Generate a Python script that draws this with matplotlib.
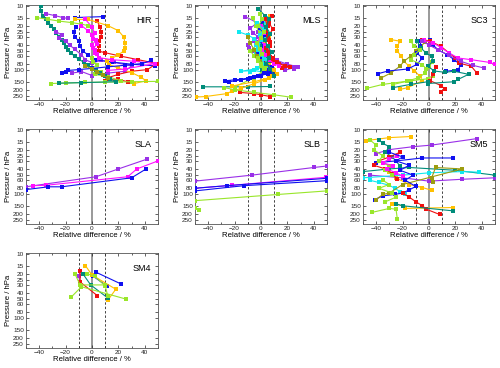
import numpy as np
import matplotlib.pyplot as plt
from matplotlib.ticker import FixedLocator

plt.rcParams['font.family'] = ['Liberation Sans', 'DejaVu Sans']

# ---- data: relative difference (%) against pressure (hPa), one entry per profile ----
panel_names = ['HIR', 'MLS', 'SC3', 'SLA', 'SLB', 'SM5', 'SM4']

hir_series = ['teal', 'purple', 'purple', 'blue', 'blue', 'red', 'gold', 'magenta', 'lime', 'lime', 'lime',
              'teal', 'blue', 'olive', 'magenta']
hir_p = [
    [10, 12, 14, 16, 18, 20, 23, 26, 30, 34, 38, 43, 48, 54, 60, 67, 75, 83, 92],
    [13, 14, 15, 15.5],
    [25, 28, 31, 35, 40, 47, 57, 68, 76, 70, 75, 85, 103, 110, 120, 104, 110],
    [15, 14.5],
    [21, 25, 30, 35, 42, 50, 57, 68, 74, 80, 85],
    [17, 21, 25, 30, 35, 42, 50, 53, 60, 68, 78, 97, 103, 115, 130, 145, 138, 150],
    [16, 16, 20, 24, 30, 37, 45, 50, 57, 65, 72, 81, 92, 108, 127, 145, 160],
    [16, 21, 26, 32, 39, 45, 53, 63, 68, 72, 78, 95, 100],
    [15, 16, 17, 18, 19, 20],
    [65, 73, 82, 92, 105, 115, 125, 145],
    [160, 157, 154, 152, 150, 148],
    [100, 110, 120, 135, 150, 155, 158],
    [110, 105, 100, 97, 93, 88, 83, 78, 70],
    [85, 95, 105, 118, 130],
    [20, 24, 28, 34, 40, 48, 56],
]
hir_d = [
    [-39, -39, -37, -35, -33, -31, -29, -27, -25, -23, -21, -20, -18, -16, -13, -10, -6, -3, 0],
    [-35, -28, -22, -18],
    [-27, -23, -25, -20, -17, -13, -8, -5, 0, 7, 17, 30, 25, 12, 0, -8, -15],
    [-13, 8],
    [-12, -14, -13, -10, -9, -7, -3, 2, 15, 30, 48],
    [4, 6, 7, 7, 5, 5, 5, 10, 22, 35, 49, 42, 30, 20, 12, 10, 20, 27],
    [-13, -3, 12, 20, 24, 25, 25, 24, 20, 15, 11, 13, 20, 30, 37, 41, 32],
    [-5, 0, 2, 1, 4, 1, 2, 5, 15, 32, 48, 25, 12],
    [-42, -33, -25, -15, -8, -3],
    [0, 1, 4, 0, 7, 2, 12, 22],
    [-31, -20, -5, 10, 30, 50],
    [3, 6, 10, 14, 18, -8, -25],
    [-23, -20, -18, -10, 0, 12, 25, 38, 45],
    [-5, 0, 4, 8, 12],
    [-8, -3, 0, 3, 0, 2, 4],
]

mls_series = ['purple', 'purple', 'cyan', 'cyan', 'teal', 'teal', 'gold', 'gold', 'red', 'red',
              'lime', 'lime', 'blue', 'blue', 'magenta', 'olive', 'cyan', 'gold', 'blue', 'lime',
              'red', 'teal']
mls_p = [
    [14.5, 18, 22, 26, 30, 35, 40, 45, 50, 55, 62, 70, 80, 88, 95],
    [20, 25, 30, 36, 42, 50, 58, 66, 75, 82, 90, 100],
    [25, 28, 32, 38, 45, 52, 60, 70, 80, 90, 103, 100, 110],
    [15, 19, 24, 29, 35, 42, 50, 60, 72, 85],
    [11, 14, 18, 23, 28, 34, 41, 50, 60, 72, 85, 100],
    [180, 180, 178],
    [260, 255, 230, 210, 190, 160, 140, 120],
    [14, 18, 23, 30, 38, 47, 58, 70, 82, 95],
    [220, 230, 240, 255],
    [16, 20, 26, 33, 42, 52, 62, 72, 80, 88, 92],
    [185, 200, 220, 240, 262],
    [15, 20, 26, 33, 40, 50, 60, 72, 85, 100, 130, 180],
    [145, 140, 135, 128, 120, 112, 105],
    [17, 22, 28, 35, 44, 55, 66, 78, 90, 110, 140],
    [20, 26, 33, 40, 48, 58, 68, 78, 86],
    [30, 38, 48, 60, 72, 85, 100],
    [18, 23, 28, 34, 40, 48, 56, 66, 78, 92, 105],
    [100, 115, 130, 150, 175],
    [150, 140, 130, 120, 110, 100],
    [13, 16, 20, 25, 31, 38, 46, 55, 65, 78, 92],
    [14, 18, 23, 29, 36, 45, 55, 65, 75, 85],
    [16, 21, 27, 34, 42, 52, 64, 78, 95, 120],
]
mls_d = [
    [-12, -3, -8, -6, -2, -5, -10, -9, -6, -2, 5, 12, 20, 28, 25],
    [2, -2, 1, -3, 0, 3, 2, 6, 12, 20, 25, 18],
    [-17, -10, -5, -2, 0, -4, 1, 3, 5, 2, -15, -5, 5],
    [4, 2, -1, 3, 1, -2, 0, 3, 6, 4],
    [-2, 3, 1, 4, 2, -1, 1, 3, 5, 7, 3, 1],
    [-44, -10, 7],
    [-49, -42, -26, -22, -15, -5, 3, 8],
    [7, 5, 2, 6, 3, 0, 4, 2, 6, 9],
    [-16, -5, 0, 7],
    [3, 5, 4, 6, 7, 5, 7, 9, 14, 22, 16],
    [-28, -20, -5, 10, 23],
    [-6, -4, -1, 0, -3, -8, -5, -2, 0, 2, -5, -20],
    [-27, -20, -10, -5, 0, 5, 8],
    [1, -1, 3, 0, 2, -2, 1, 4, 8, 5, -15],
    [0, 2, -1, 3, 1, 4, 6, 10, 14],
    [-10, -8, -5, -3, 0, 3, 5],
    [-3, 2, -1, 1, -4, -2, 0, 2, 1, -3, -8],
    [10, 12, 6, -5, -22],
    [-24, -15, -8, -2, 2, 6],
    [-1, 1, -2, 2, 0, -3, -1, 1, -2, 0, 3],
    [8, 6, 9, 5, 7, 4, 6, 9, 12, 18],
    [6, 4, 7, 3, 5, 8, 6, 4, 7, 10],
]

sc3_series = ['gold', 'lime', 'lime', 'olive', 'blue', 'blue', 'red', 'red', 'magenta', 'purple',
              'teal', 'lime', 'teal']
sc3_p = [
    [33, 35, 42, 50, 60, 72, 86, 102, 122, 145, 185, 198],
    [190, 165, 145, 135, 120],
    [190, 165, 148, 130, 110, 90, 75],
    [130, 110, 86, 72, 60, 50, 42, 36],
    [113, 102, 95, 80, 64, 54, 42, 35, 33],
    [33, 40, 48, 57, 68, 82, 98, 103],
    [33, 35, 42, 53, 64, 77, 86, 108],
    [90, 103, 115, 145, 172, 195, 215],
    [34, 37, 44, 53, 64, 68, 75, 80],
    [35, 40, 48, 58, 72, 83, 92],
    [35, 45, 54, 60, 72, 86, 102, 107, 103, 115, 138, 150, 160],
    [35, 42, 48, 57, 68, 81, 95],
    [150, 165, 185],
]
sc3_d = [
    [-29, -22, -24, -24, -21, -19, -15, -11, -7, -5, -16, -22],
    [-47, -35, -14, -1, 3],
    [-27, -27, -17, -8, -3, 0, 2],
    [-36, -29, -22, -19, -14, -10, -6, -3],
    [-39, -31, -16, -9, -5, -9, -7, -6, -4],
    [1, 3, 7, 14, 19, 24, 22, 13],
    [-5, 1, 9, 15, 20, 23, 32, 36],
    [5, 4, 3, 1, 9, 12, 9],
    [-4, 3, 9, 15, 22, 32, 46, 50],
    [-5, 0, 7, 15, 24, 33, 42],
    [-9, -6, -2, 2, 3, -1, 4, 12, 19, 30, 22, 19, -1],
    [-14, -11, -7, -11, -14, -5, -2],
    [-1, -14, -27],
]

sla_series = ['purple', 'magenta', 'blue']
sla_p = [
    [76, 53, 40, 28],
    [73, 72, 53, 40, 30],
    [84, 76, 76, 55, 40],
]
sla_d = [
    [-50, 3, 20, 42],
    [-45, -35, 27, 34, 50],
    [-50, -33, -23, 30, 41],
]

slb_series = ['purple', 'magenta', 'blue', 'blue', 'lime', 'lime']
slb_p = [
    [62, 50, 38, 36],
    [80, 72, 54],
    [80, 73, 56],
    [88, 73, 61],
    [125, 100, 88],
    [160, 175],
]
slb_d = [
    [-50, -7, 40, 50],
    [-50, -22, 49],
    [-50, -26, 50],
    [-50, -13, 50],
    [-50, 13, 50],
    [-50, -47],
]

sm5_series = ['gold', 'gold', 'gold', 'purple', 'purple', 'teal', 'teal', 'cyan', 'cyan', 'blue', 'blue',
              'red', 'red', 'lime', 'lime', 'olive', 'magenta', 'teal', 'blue', 'lime']
sm5_p = [
    [14.5, 13, 12.5],
    [140, 150, 165, 160],
    [45, 55, 70, 78, 86],
    [23, 20, 18, 17, 13.5],
    [50, 55, 62, 58, 55],
    [44, 40, 38, 42, 50],
    [14, 16, 18, 22, 26, 30, 36],
    [55, 50, 46, 44, 45],
    [60, 65, 72, 80, 90, 100],
    [32, 30, 27, 27],
    [120, 105, 100, 95, 85, 75],
    [95, 110, 130, 150, 170, 205],
    [22, 26, 30, 35, 40, 48, 57],
    [190, 165, 170, 240],
    [14, 17, 20, 25, 30, 36, 42, 50],
    [120, 100, 95, 70, 40, 38, 55, 65],
    [25, 28, 32, 36, 40, 46, 52],
    [140, 150, 180],
    [22, 26, 30, 35, 42, 50, 60, 75],
    [60, 70, 80, 95, 110, 130],
]
sm5_d = [
    [-48, -30, -14],
    [-28, -20, -18, 18],
    [-30, -25, -15, -5, 2],
    [-40, -30, -12, 2, 36],
    [-45, -20, 0, 25, 50],
    [-50, -30, -15, 20, 50],
    [-38, -35, -30, -33, -28, -25, -22],
    [-50, -20, 0, 25, 38],
    [-45, -38, -30, -26, -22, -18],
    [-40, -25, -5, 18],
    [-41, -35, -26, -20, -15, -10],
    [-20, -15, -10, -5, -2, 8],
    [-22, -30, -38, -42, -33, -28, -24],
    [-43, -30, -25, -24],
    [-45, -40, -42, -35, -38, -30, -33, -28],
    [-40, -35, -30, -20, 25, 5, 2, 3],
    [-24, -30, -35, -27, -32, -25, -20],
    [-25, -20, 18],
    [-30, -20, -25, -15, -22, -12, -18, -10],
    [-35, -30, -38, -28, -25, -33],
]

sm4_series = ['purple', 'red', 'blue', 'blue', 'gold', 'teal', 'lime', 'lime', 'lime']
sm4_p = [
    [18.5, 22, 29],
    [18, 27, 44],
    [19, 29],
    [22, 31],
    [15, 21, 35, 52],
    [20, 30, 48],
    [20, 30, 30],
    [47, 32, 50],
    [20, 22, 31, 45],
]
sm4_d = [
    [-9, -10, -9],
    [-9, -9, 4],
    [3, 22],
    [1, 11],
    [-5, 0, 18, 12],
    [-7, -1, 12],
    [-13, -9, 10],
    [-16, -8, 26],
    [-4, 2, 10, 12],
]

pressure_ticks = [10, 15, 20, 25, 30, 40, 50, 60, 80, 100, 150, 200, 250]

# ---- styling ----
COLORS = {
    'blue': '#1010f0', 'red': '#f01010', 'magenta': '#ff10ff', 'purple': '#9a30e8',
    'cyan': '#10e8f0', 'teal': '#008c7a', 'lime': '#99e62a', 'gold': '#ffc000', 'olive': '#9c9c10',
}

fig = plt.figure(figsize=(5.0, 3.68), dpi=100)

lefts = [0.052, 0.390, 0.726]
bottoms = [0.728, 0.391, 0.054]
w, h = 0.264, 0.258
slots = [(0, 0), (0, 1), (0, 2), (1, 0), (1, 1), (1, 2), (2, 0)]

all_series = [hir_series, mls_series, sc3_series, sla_series, slb_series, sm5_series, sm4_series]
all_p = [hir_p, mls_p, sc3_p, sla_p, slb_p, sm5_p, sm4_p]
all_d = [hir_d, mls_d, sc3_d, sla_d, slb_d, sm5_d, sm4_d]

for name, (r, c), ser, pp, dd in zip(panel_names, slots, all_series, all_p, all_d):
    ax = fig.add_axes([lefts[c], bottoms[r], w, h])
    ax.axvline(0, color='#888888', lw=1.2, zorder=1)
    for xv in (-10, 10):
        ax.axvline(xv, color='#444444', lw=0.7, ls=(0, (2.5, 2)), zorder=1)
    for s, p, d in zip(ser, pp, dd):
        ax.plot(d, p, color=COLORS[s], lw=0.8, marker='s', ms=2.6, mew=0, zorder=3)
    ax.set_yscale('log')
    ax.set_ylim(290, 9.6)
    ax.set_xlim(-50, 50)
    ax.yaxis.set_major_locator(FixedLocator(pressure_ticks))
    ax.yaxis.set_minor_locator(FixedLocator([]))
    ax.set_yticklabels([str(t) for t in pressure_ticks])
    ax.set_xticks([-40, -20, 0, 20, 40])
    ax.set_xticks(np.arange(-50, 51, 10), minor=True)
    ax.tick_params(which='both', direction='in', top=True, right=True, labelsize=4.6,
                   length=2.5, width=0.5, pad=1.5, colors='#222222')
    ax.tick_params(which='minor', length=1.5)
    for sp in ax.spines.values():
        sp.set_linewidth(0.6)
        sp.set_color('#555555')
    ax.set_xlabel('Relative difference / %', fontsize=5.6, labelpad=0.5)
    ax.set_ylabel('Pressure / hPa', fontsize=5.6, labelpad=1)
    ax.text(0.95, 0.84, name, transform=ax.transAxes, ha='right', va='center', fontsize=6.5)

fig.savefig('out.png', dpi=100)
